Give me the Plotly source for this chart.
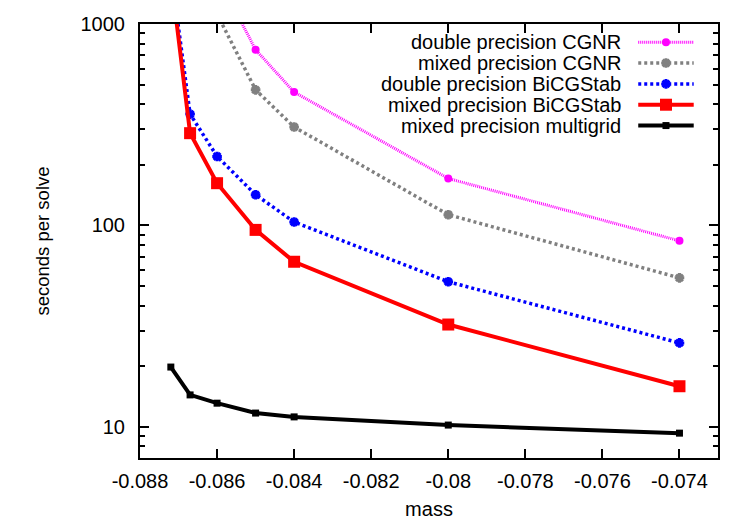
import plotly.graph_objects as go

# ---- data ----
mass = [-0.0872, -0.0867, -0.086, -0.085, -0.084, -0.080, -0.074]
mass_cgnr = [-0.086, -0.085, -0.084, -0.080, -0.074]

double_cgnr = [1750, 745, 459, 171, 83.8]
mixed_cgnr = [1120, 471, 308, 113, 54.9]
double_bicg = [1850, 357, 220, 142, 104, 52.5, 26.1]
mixed_bicg = [1750, 287, 162, 95, 66, 32.2, 15.9]
mixed_mg = [19.8, 14.4, 13.1, 11.7, 11.2, 10.2, 9.3]

names = ["double precision CGNR", "mixed precision CGNR", "double precision BiCGStab",
         "mixed precision BiCGStab", "mixed precision multigrid"]

x_tickvals = [-0.088, -0.086, -0.084, -0.082, -0.080, -0.078, -0.076, -0.074]
x_ticktext = ["-0.088", "-0.086", "-0.084", "-0.082", "-0.08", "-0.078", "-0.076", "-0.074"]
y_tickvals = [10, 100, 1000]
y_ticktext = ["10", "100", "1000"]

FONT = "Liberation Sans"
FS = 20

styles = [
    dict(color="#ff00ff", dash="1px,1px", width=3, symbol="circle", msize=8, mline=0),
    dict(color="#808080", dash="3px,3px", width=3.5, symbol="asterisk-open", msize=8, mline=3),
    dict(color="#0000ff", dash="3px,3px", width=3.5, symbol="asterisk-open", msize=8, mline=3),
    dict(color="#ff0000", dash="solid", width=4, symbol="square", msize=12, mline=0),
    dict(color="#000000", dash="solid", width=4, symbol="square", msize=7, mline=0),
]
series = [(mass_cgnr, double_cgnr), (mass_cgnr, mixed_cgnr), (mass, double_bicg),
          (mass, mixed_bicg), (mass, mixed_mg)]

fig = go.Figure()
for (xs, ys), nm, st in zip(series, names, styles):
    fig.add_trace(go.Scatter(
        x=xs, y=ys, name=nm, mode="lines+markers", showlegend=False,
        line=dict(color=st["color"], dash=st["dash"], width=st["width"]),
        marker=dict(symbol=st["symbol"], size=st["msize"], color=st["color"],
                    line=dict(color=st["color"], width=st["mline"])),
    ))

# custom gnuplot-style legend (text left, sample right) on an overlay axis
leg_x0, leg_x1 = 0.862, 0.958
leg_text_x = 0.836
leg_top, leg_step = 0.958, 0.048
for i, (nm, st) in enumerate(zip(names, styles)):
    yy = leg_top - i * leg_step
    fig.add_trace(go.Scatter(
        x=[leg_x0, (leg_x0 + leg_x1) / 2, leg_x1], y=[yy, yy, yy],
        xaxis="x2", yaxis="y2", mode="lines", showlegend=False, hoverinfo="skip",
        line=dict(color=st["color"], dash=st["dash"], width=st["width"]),
    ))
    fig.add_trace(go.Scatter(
        x=[(leg_x0 + leg_x1) / 2], y=[yy],
        xaxis="x2", yaxis="y2", mode="markers", showlegend=False, hoverinfo="skip",
        marker=dict(symbol=st["symbol"], size=st["msize"], color=st["color"],
                    line=dict(color=st["color"], width=st["mline"])),
    ))
    fig.add_annotation(x=leg_text_x, y=yy, xref="paper", yref="paper", text=nm,
                       showarrow=False, xanchor="right", yanchor="middle",
                       font=dict(family=FONT, size=20, color="black"))

axis_common = dict(showline=True, linecolor="black", linewidth=2, mirror="ticks",
                   ticks="inside", tickcolor="black", tickwidth=2, ticklen=9,
                   showgrid=False, zeroline=False, automargin=False,
                   tickfont=dict(family=FONT, size=FS, color="black"))

fig.update_layout(
    width=750, height=525,
    margin=dict(l=140, r=32, t=24, b=67),
    plot_bgcolor="white", paper_bgcolor="white",
    font=dict(family=FONT, size=FS, color="black"),
    xaxis=dict(range=[-0.088, -0.073], tickvals=x_tickvals, ticktext=x_ticktext,
               ticklabelstandoff=4,
               title=dict(text="mass", font=dict(family=FONT, size=FS), standoff=11),
               **axis_common),
    yaxis=dict(type="log", range=[0.845098, 3], tickvals=y_tickvals,
               ticktext=y_ticktext, ticklabelstandoff=9,
               minor=dict(ticks="inside", ticklen=5, tickcolor="black", tickwidth=2,
                          tickvals=[v * d for d in [1, 10, 100] for v in range(2, 10)]
                                   + [7, 8, 9]),
               title=dict(text="seconds per solve", font=dict(family=FONT, size=18.5),
                          standoff=26),
               **axis_common),
    xaxis2=dict(overlaying="x", range=[0, 1], visible=False, fixedrange=True),
    yaxis2=dict(overlaying="y", range=[0, 1], visible=False, fixedrange=True),
)

fig.write_html("out.html")
